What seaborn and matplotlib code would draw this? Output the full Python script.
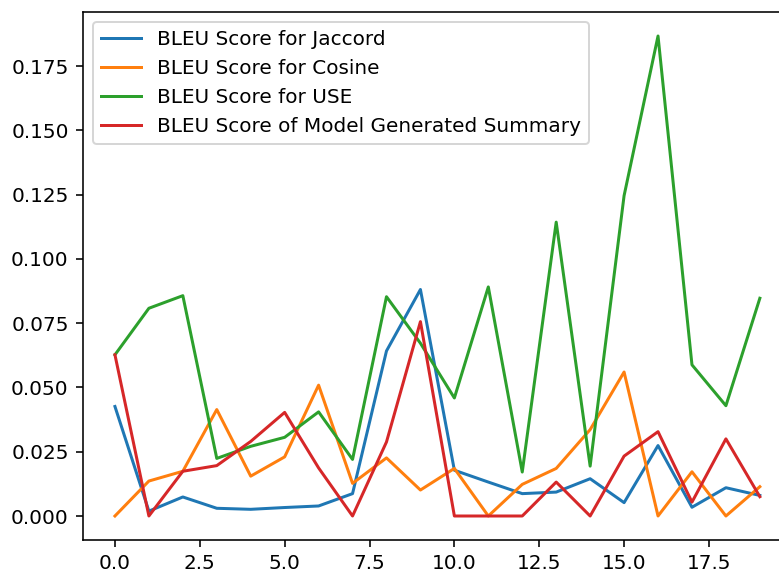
import numpy as np
import pandas as pd
import matplotlib
matplotlib.use("Agg")
import matplotlib.pyplot as plt
import seaborn as sns

x_index = list(range(20))
jaccard = [0.0426, 0.0019, 0.0074, 0.0030, 0.0026, 0.0033, 0.0039, 0.0087, 0.0642, 0.0881,
           0.0178, 0.0132, 0.0087, 0.0093, 0.0145, 0.0052, 0.0274, 0.0034, 0.0110, 0.0080]
cosine = [0.0, 0.0136, 0.0174, 0.0414, 0.0155, 0.0230, 0.0509, 0.0127, 0.0226, 0.0101,
          0.0185, 0.0, 0.0123, 0.0185, 0.0336, 0.0560, 0.0, 0.0172, 0.0, 0.0114]
use = [0.0627, 0.0808, 0.0857, 0.0224, 0.0271, 0.0306, 0.0405, 0.0220, 0.0853, 0.0672,
       0.0459, 0.0891, 0.0171, 0.1143, 0.0194, 0.1246, 0.1867, 0.0588, 0.0429, 0.0847]
model = [0.0627, 0.0, 0.0174, 0.0196, 0.0290, 0.0403, 0.0187, 0.0, 0.0288, 0.0756,
         0.0, 0.0, 0.0, 0.0132, 0.0, 0.0233, 0.0328, 0.0054, 0.0300, 0.0075]

labels = ["BLEU Score for Jaccord", "BLEU Score for Cosine",
          "BLEU Score for USE", "BLEU Score of Model Generated Summary"]
colors = ["#1f77b4", "#ff7f0e", "#2ca02c", "#d62728"]

DPI = 144
fig = plt.figure(figsize=(779 / DPI, 572 / DPI), dpi=DPI)
ax = fig.add_axes([82.7 / 779, 32 / 572, 709.4 / 779, 528 / 572])

for series, lab, col in zip([jaccard, cosine, use, model], labels, colors):
    sns.lineplot(x=x_index, y=series, ax=ax, label=lab, color=col, linewidth=1.5)

ax.legend(loc="upper left")
ax.set_xlabel("")
ax.set_ylabel("")

fig.savefig("out.png", dpi=DPI)
